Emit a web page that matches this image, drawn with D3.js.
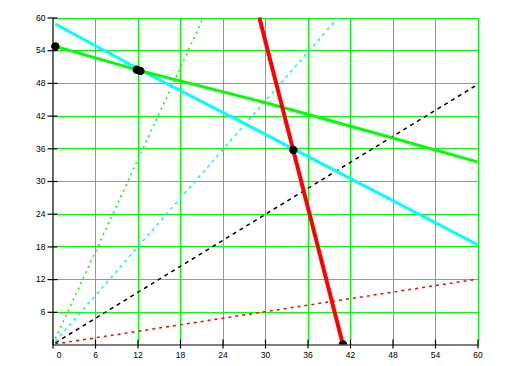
<!DOCTYPE html>
<html><head><meta charset="utf-8">
<script src="https://cdn.jsdelivr.net/npm/d3@7/dist/d3.min.js"></script>
<style>body{margin:0;background:#fff}svg{display:block}</style>
</head><body>
<svg id="c" width="519" height="366"></svg>
<script>
// ---- data ----
const xTicks = [0, 6, 12, 18, 24, 30, 36, 42, 48, 54, 60];
const yTicks = [6, 12, 18, 24, 30, 36, 42, 48, 54, 60];
const cyanSolid = [[0.4, 58.8], [12.2, 50.5], [30, 38.6], [60, 18.3]];
const greenSolid = [[0.4, 54.7], [12.2, 50.3], [30, 44.4], [45, 39.0], [60, 33.5]];
const redSolid = [[29.2, 60], [41.0, 0]];
const redDotted = [[0.4, 0.1], [60, 12.0]];
const blackDashed = [[0.4, 0.3], [60, 47.7]];
const cyanDotted = [[0.4, 0.6], [40.3, 60]];
const greenDotted = [[0.4, 1.1], [21.3, 60]];
const dots = [[0.4, 54.7], [11.9, 50.4], [12.4, 50.2], [34.0, 35.7], [41.0, 0]];

const svg = d3.select("#c");
const x = d3.scaleLinear().domain([0, 60]).range([52.5, 477.5]);
const y = d3.scaleLinear().domain([0, 60]).range([344.5, 17.5]);

svg.append("defs").append("clipPath").attr("id", "clip")
  .append("rect").attr("x", x(0) - 6).attr("y", y(60) - 6)
  .attr("width", x(60) - x(0) + 6).attr("height", y(0) - y(60) + 6);

// grid
const g = svg.append("g").attr("shape-rendering", "crispEdges");
g.selectAll(".gx").data(xTicks.filter(d => d > 0)).enter().append("line")
  .attr("x1", d => Math.round(x(d)) + 0.5).attr("x2", d => Math.round(x(d)) + 0.5)
  .attr("y1", y(60)).attr("y2", y(0))
  .attr("stroke", "#00ff00").attr("stroke-width", 1);
g.selectAll(".gy").data(yTicks).enter().append("line")
  .attr("x1", x(0)).attr("x2", x(60))
  .attr("y1", d => Math.round(y(d)) + 0.5).attr("y2", d => Math.round(y(d)) + 0.5)
  .attr("stroke", "#00ff00").attr("stroke-width", 1);

// axes
const xAxis = d3.axisBottom(x).tickValues(xTicks).tickSize(4).tickSizeOuter(0);
const yAxis = d3.axisLeft(y).tickValues(yTicks).tickSize(5).tickSizeOuter(0);
const xa = svg.append("g").attr("transform", `translate(0,${y(0)})`).call(xAxis);
const ya = svg.append("g").attr("transform", `translate(${x(0)},0)`).call(yAxis);
[xa, ya].forEach(a => {
  a.select(".domain").attr("stroke", "#000").attr("stroke-width", 1.2);
  a.selectAll(".tick line").attr("stroke", "#000").attr("stroke-width", 1.2);
  a.selectAll("text").attr("font-family", "Liberation Sans, Arial, sans-serif")
    .attr("font-size", 8.5).attr("fill", "#000");
});
xa.selectAll(".tick line").attr("y1", -5).attr("y2", 4);
xa.selectAll("text").attr("y", 7);
xa.selectAll(".tick").filter(d => d === 0).select("text").attr("x", 6);
ya.selectAll(".tick line").attr("x1", -5).attr("x2", 5);
ya.selectAll("text").attr("x", -7);

// lines
const line = d3.line().x(d => x(d[0])).y(d => y(d[1]));
const plot = svg.append("g").attr("clip-path", "url(#clip)");
function draw(data, color, w, dash) {
  const p = plot.append("path").datum(data).attr("d", line)
    .attr("fill", "none").attr("stroke", color).attr("stroke-width", w);
  if (dash) p.attr("stroke-dasharray", dash);
}
draw(redDotted, "#ff0000", 1.5, "3,4");
draw(blackDashed, "#000000", 1.5, "4,4");
draw(cyanDotted, "#00ffff", 1.5, "3,4");
draw(greenDotted, "#00ff00", 1.5, "2,4");
draw(cyanSolid, "#00ffff", 3, null);
draw(greenSolid, "#00ff00", 3, null);
draw(redSolid, "#ff0000", 4, null);

plot.selectAll("circle").data(dots).enter().append("circle")
  .attr("cx", d => x(d[0])).attr("cy", d => y(d[1])).attr("r", 4.2)
  .attr("fill", "#000");
</script>
</body></html>
